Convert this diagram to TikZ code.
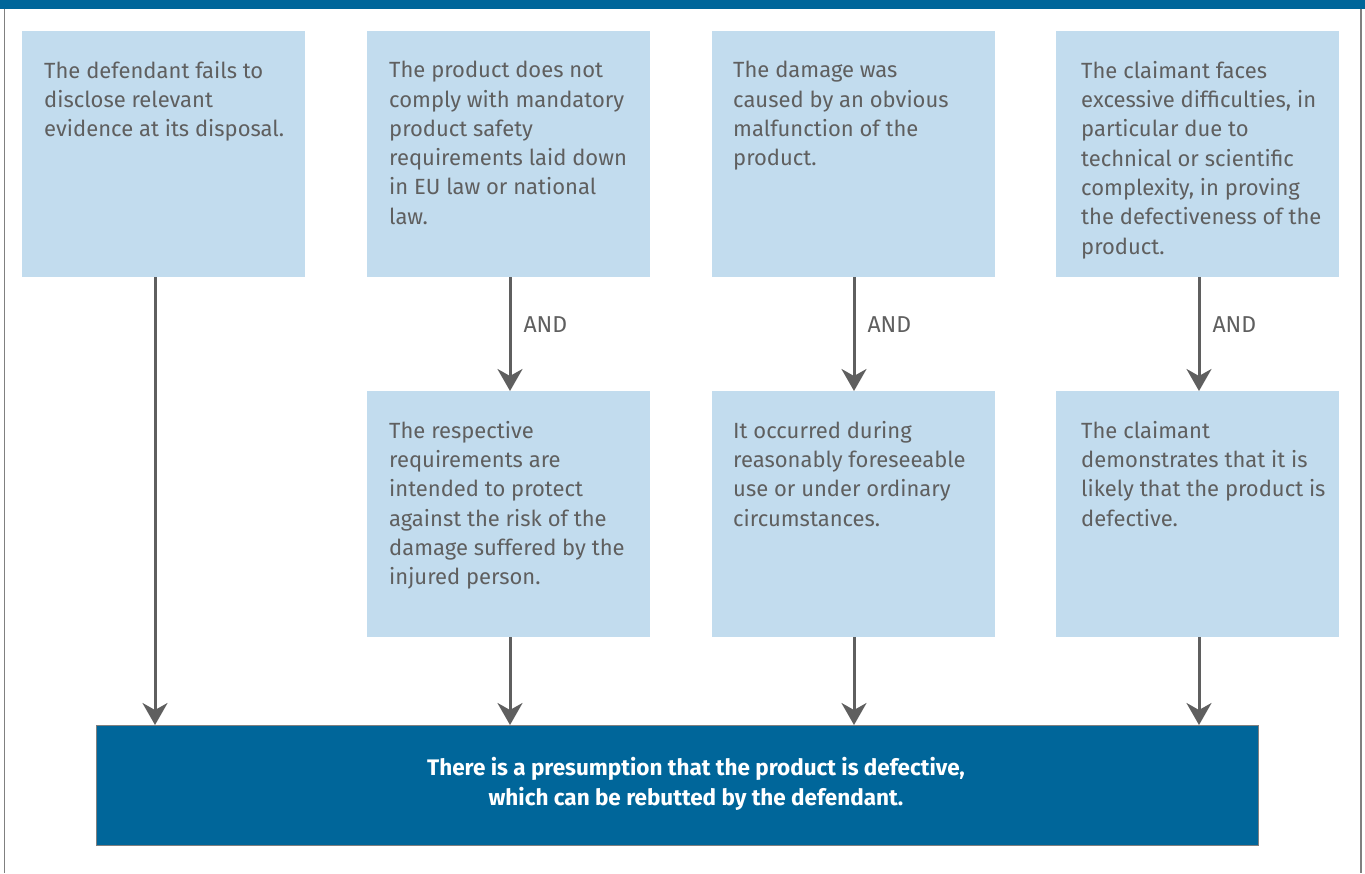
\documentclass[tikz,border=0pt]{standalone}
\usepackage{fontspec}
\setmainfont{Fira Sans}
\usepackage{tikz}
\usetikzlibrary{arrows.meta, positioning}
\usepackage{xcolor}

\definecolor{deepblue}{HTML}{00669A}
\definecolor{paleblue}{HTML}{C2DCEE}
\definecolor{inkgray}{HTML}{5F5F5F}
\definecolor{framegray}{HTML}{808080}

\begin{document}
\begin{tikzpicture}[
    x=1pt, y=-1pt,
    box/.style={fill=paleblue, minimum width=283pt, minimum height=246pt, inner sep=0pt, anchor=north west},
    txt/.style={anchor=north west, align=left, inner sep=0pt, text=inkgray,
      font=\fontsize{22}{29.3}\selectfont},
    result/.style={fill=deepblue, draw=framegray, line width=1pt, minimum width=1162pt,
      minimum height=120pt, inner sep=0pt, anchor=north west},
    flow/.style={draw=inkgray, line width=3pt,
      -{Stealth[length=22pt, width=25pt, inset=7pt]}},
    andlabel/.style={text=inkgray, font=\fontsize{23}{25}\selectfont, inner sep=0pt}
  ]
    \useasboundingbox (0,0) rectangle (1365,873);
    % frame and top bar
    \fill[deepblue] (0,0) rectangle (1365,9);
    \draw[framegray, line width=1.5pt] (4.5,9) -- (4.5,873);
    \draw[framegray, line width=1.5pt] (1361,9) -- (1361,873);

    % first row
    \node[box] (c1) at (22,31) {};
    \node[box] (c2) at (367,31) {};
    \node[box] (c3) at (712,31) {};
    \node[box] (c4) at (1056,31) {};
    % second row
    \node[box] (d2) at (367,391) {};
    \node[box] (d3) at (712,391) {};
    \node[box] (d4) at (1056,391) {};
    % outcome
    \node[result] (res) at (96,725) {};

    % texts
    \node[txt] (t1) at (44,61) {The defendant fails to\\disclose relevant\\evidence at its disposal.};
    \node[txt] (t2) at (389,61) {The product does not\\comply with mandatory\\product safety\\requirements laid down\\in EU law or national\\law.};
    \node[txt] (t3) at (733,61) {The damage was\\caused by an obvious\\malfunction of the\\product.};
    \node[txt] (t4) at (1081,61) {The claimant faces\\excessive difficulties, in\\particular due to\\technical or scientific\\complexity, in proving\\the defectiveness of the\\product.};
    \node[txt] (u2) at (389,421) {The respective\\requirements are\\intended to protect\\against the risk of the\\damage suffered by the\\injured person.};
    \node[txt] (u3) at (733,421) {It occurred during\\reasonably foreseeable\\use or under ordinary\\circumstances.};
    \node[txt] (u4) at (1081,421) {The claimant\\demonstrates that it is\\likely that the product is\\defective.};
    \node[align=center, text=white, inner sep=0pt, font=\fontsize{22.5}{30.5}\selectfont\bfseries]
      (rt) at (696,784) {There is a presumption that the product is defective,\\which can be rebutted by the defendant.};

    % connectors
    \coordinate (a1) at (155,277);
    \draw[flow] (a1) -- (a1 |- res.north);
    \foreach \col/\xx in {2/510, 3/854, 4/1199} {
      \coordinate (top\col) at (\xx,277);
      \coordinate (mid\col) at (\xx,637);
      \draw[flow] (top\col) -- (top\col |- d\col.north)
        node[midway, right=12pt, yshift=9pt, andlabel] {AND};
      \draw[flow] (mid\col) -- (mid\col |- res.north);
    }
\end{tikzpicture}
\end{document}
